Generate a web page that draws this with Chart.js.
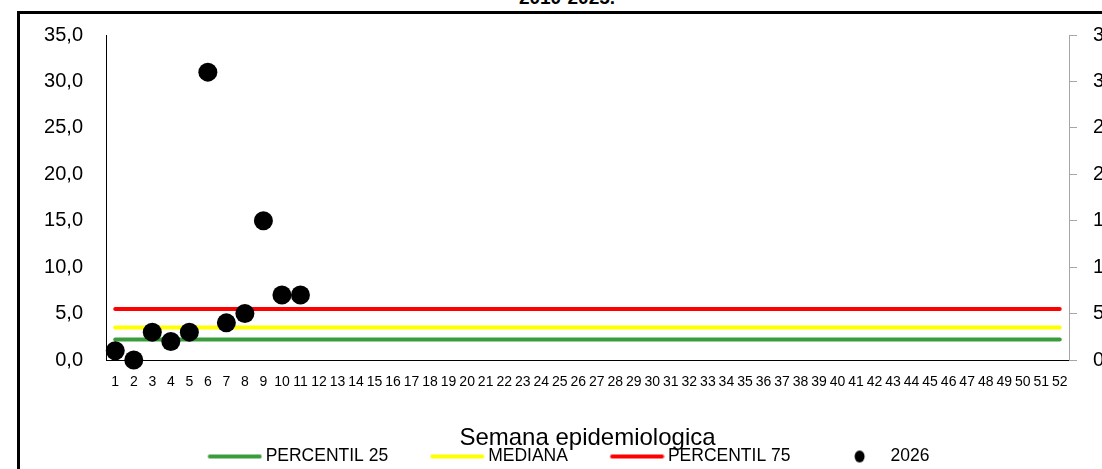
<!DOCTYPE html>
<html lang="es">
<head>
<meta charset="utf-8">
<title>Semana epidemiologica 2026</title>
<script src="https://cdn.jsdelivr.net/npm/chart.js@4.4.1/dist/chart.umd.min.js"></script>
<style>
  html, body { margin: 0; padding: 0; width: 1102px; height: 469px; overflow: hidden; background: #fff; }
  #marco { position: absolute; left: 17px; top: 11px; width: 1300px; height: 700px;
           border-left: 3px solid #000; border-top: 3px solid #000; box-sizing: border-box; }
  #titulo { position: absolute; left: 0; top: -12px; width: 1134px; text-align: center;
            font: bold 19px 'Liberation Sans', Arial, sans-serif; line-height: 19px; white-space: nowrap; color: #000; }
  #grafico { position: absolute; left: 0; top: 0; }
</style>
</head>
<body>
<div id="marco"></div>
<div id="titulo">2010-2025.</div>
<canvas id="grafico" width="1152" height="469"></canvas>
<script>
// Semanas epidemiologicas (eje X)
const semanas = ['1','2','3','4','5','6','7','8','9','10','11','12','13','14','15','16','17','18','19','20',
  '21','22','23','24','25','26','27','28','29','30','31','32','33','34','35','36','37','38','39','40',
  '41','42','43','44','45','46','47','48','49','50','51','52'];

// Canal endemico 2010-2025
const percentil25 = [2.2,2.2,2.2,2.2,2.2,2.2,2.2,2.2,2.2,2.2,2.2,2.2,2.2,2.2,2.2,2.2,2.2,2.2,2.2,2.2,
  2.2,2.2,2.2,2.2,2.2,2.2,2.2,2.2,2.2,2.2,2.2,2.2,2.2,2.2,2.2,2.2,2.2,2.2,2.2,2.2,
  2.2,2.2,2.2,2.2,2.2,2.2,2.2,2.2,2.2,2.2,2.2,2.2];
const mediana = [3.5,3.5,3.5,3.5,3.5,3.5,3.5,3.5,3.5,3.5,3.5,3.5,3.5,3.5,3.5,3.5,3.5,3.5,3.5,3.5,
  3.5,3.5,3.5,3.5,3.5,3.5,3.5,3.5,3.5,3.5,3.5,3.5,3.5,3.5,3.5,3.5,3.5,3.5,3.5,3.5,
  3.5,3.5,3.5,3.5,3.5,3.5,3.5,3.5,3.5,3.5,3.5,3.5];
const percentil75 = [5.5,5.5,5.5,5.5,5.5,5.5,5.5,5.5,5.5,5.5,5.5,5.5,5.5,5.5,5.5,5.5,5.5,5.5,5.5,5.5,
  5.5,5.5,5.5,5.5,5.5,5.5,5.5,5.5,5.5,5.5,5.5,5.5,5.5,5.5,5.5,5.5,5.5,5.5,5.5,5.5,
  5.5,5.5,5.5,5.5,5.5,5.5,5.5,5.5,5.5,5.5,5.5,5.5];

// Casos notificados 2026
const casos2026 = [1.0, 0.0, 3.0, 2.0, 3.0, 31.0, 4.0, 5.0, 15.0, 7.0, 7.0];

// Etiquetas de los ejes Y
const etiquetasY = ['0,0','5,0','10,0','15,0','20,0','25,0','30,0','35,0'];

const fuenteSans = "'Liberation Sans', Arial, sans-serif";

// Simbolos de la leyenda: trazo de 54 px o punto, dibujados en un lienzo auxiliar
function simbolo(tipo, color) {
  const c = document.createElement('canvas');
  c.width = 102; c.height = 14;
  const g = c.getContext('2d');
  if (tipo === 'linea') {
    g.strokeStyle = color; g.lineWidth = 4; g.lineCap = 'round';
    g.beginPath(); g.moveTo(49.5, 7); g.lineTo(99.5, 7); g.stroke();
  } else {
    g.fillStyle = color;
    g.beginPath(); g.ellipse(74.5, 7, 5, 6, 0, 0, Math.PI * 2); g.fill();
  }
  return c;
}

const series = [
  { label: 'PERCENTIL 25', data: percentil25, color: '#3a9c3a', tipo: 'linea' },
  { label: 'MEDIANA', data: mediana, color: '#ffff00', tipo: 'linea' },
  { label: 'PERCENTIL 75', data: percentil75, color: '#ff0000', tipo: 'linea' },
  { label: '2026', data: casos2026, color: '#000000', tipo: 'punto' }
];

const datasets = series.map(s => s.tipo === 'linea' ? {
  label: s.label, data: s.data, borderColor: s.color, backgroundColor: s.color,
  borderWidth: 4, borderCapStyle: 'round', pointRadius: 0, fill: false, order: 1
} : {
  label: s.label, data: s.data, showLine: false, pointRadius: 9.5, pointHoverRadius: 9.5,
  pointBackgroundColor: s.color, pointBorderWidth: 0, clip: false, order: 0
});

// Centra la leyenda bajo el area de datos desplazando su caja
const ajusteLeyenda = {
  id: 'ajusteLeyenda',
  afterLayout(chart) {
    if (chart.legend) { chart.legend.right -= 16; }
  }
};

new Chart(document.getElementById('grafico'), {
  type: 'line',
  data: { labels: semanas, datasets },
  plugins: [ajusteLeyenda],
  options: {
    responsive: false,
    animation: false,
    devicePixelRatio: 1,
    layout: { padding: { top: 35, left: 0, right: 41, bottom: 0 } },
    plugins: {
      tooltip: { enabled: false },
      legend: {
        position: 'bottom',
        maxHeight: 21.25,
        labels: {
          usePointStyle: true,
          pointStyleWidth: 91.25,
          boxHeight: 17.5,
          padding: 0,
          color: '#000',
          font: { family: fuenteSans, size: 17.5 },
          generateLabels: () => series.map((s, i) => ({
            text: s.label, datasetIndex: i, hidden: false, lineWidth: 0,
            fillStyle: s.color, strokeStyle: s.color, fontColor: '#000',
            pointStyle: simbolo(s.tipo, s.color)
          }))
        }
      }
    },
    scales: {
      x: {
        type: 'category',
        offset: true,
        grid: { display: false, drawTicks: false },
        border: { display: true, color: '#000', width: 1 },
        ticks: { autoSkip: false, maxRotation: 0, minRotation: 0, padding: 14, color: '#000',
                 font: { family: fuenteSans, size: 14 } },
        title: { display: true, text: 'Semana epidemiologica', color: '#000',
                 font: { family: fuenteSans, size: 24, lineHeight: 0.8 },
                 padding: { top: 0, bottom: 0 } },
        afterFit: a => { a.height = 87.75; }
      },
      y: {
        position: 'left',
        min: 0, max: 35,
        grid: { display: false, drawTicks: false },
        border: { display: true, color: '#000', width: 1 },
        ticks: { stepSize: 5, padding: 23, color: '#000', font: { family: fuenteSans, size: 20 },
                 callback: (v, i) => etiquetasY[i] },
        afterFit: a => { a.width = 106; }
      },
      y2: {
        position: 'right',
        min: 0, max: 35,
        grid: { display: true, drawOnChartArea: false, drawTicks: true, tickLength: 8, color: '#a6a6a6' },
        border: { display: true, color: '#a6a6a6', width: 1 },
        ticks: { stepSize: 5, padding: 16, color: '#000', font: { family: fuenteSans, size: 20 },
                 callback: (v, i) => etiquetasY[i] },
        afterFit: a => { a.width = 42; }
      }
    }
  }
});
</script>
</body>
</html>
